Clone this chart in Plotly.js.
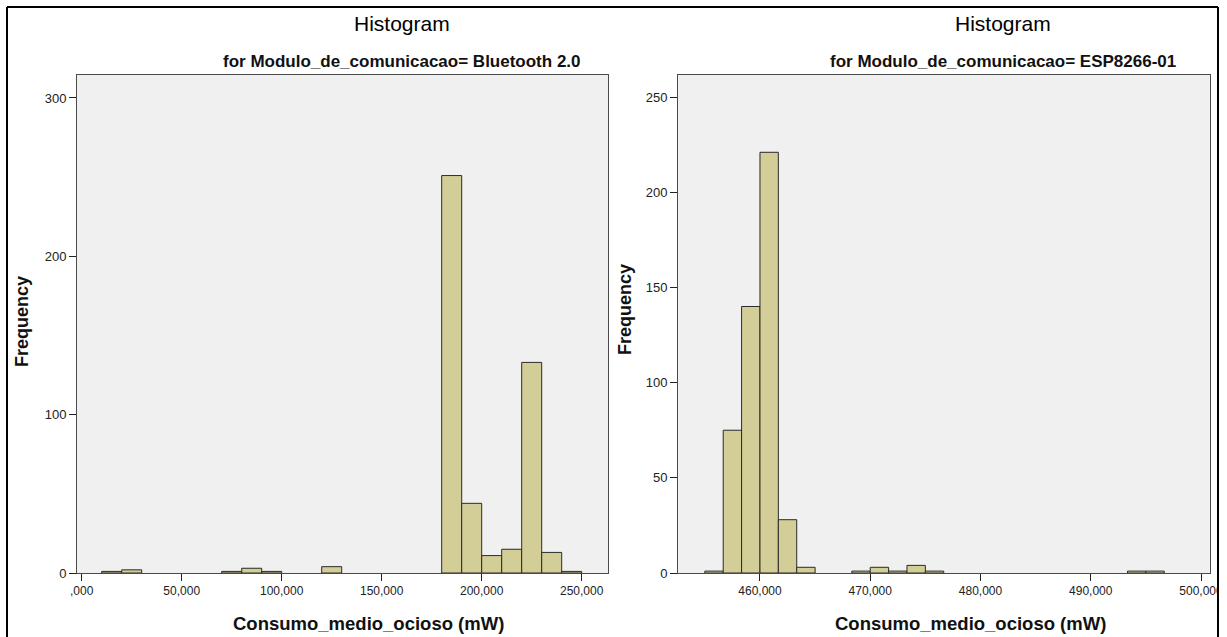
<!DOCTYPE html>
<html>
<head>
<meta charset="utf-8">
<script src="https://cdn.plot.ly/plotly-3.0.1.min.js"></script>
<style>
  html, body { margin: 0; padding: 0; background: #ffffff; }
  #chart { width: 1227px; height: 637px; }
</style>
</head>
<body>
<div id="chart"></div>
<script>
// ---- Data: Bluetooth 2.0 (bin start in mW, bin width 10,000) ----
const btBinStart = [10000, 20000, 70000, 80000, 90000, 120000, 180000, 190000, 200000, 210000, 220000, 230000, 240000];
const btCounts   = [1, 2, 1, 3, 1, 4, 251, 44, 11, 15, 133, 13, 1];
const btBinWidth = 10000;
const btTickVals = [0, 50000, 100000, 150000, 200000, 250000];
const btTickText = [",000", "50,000", "100,000", "150,000", "200,000", "250,000"];
const btYTicks   = [0, 100, 200, 300];

// ---- Data: ESP8266-01 (bin start in mW, bin width 10,000/6) ----
const espBinStart = [455000, 456666.67, 458333.33, 460000, 461666.67, 463333.33, 468333.33, 470000, 471666.67, 473333.33, 475000, 493333.33, 495000];
const espCounts   = [1, 75, 140, 221, 28, 3, 1, 3, 1, 4, 1, 1, 1];
const espBinWidth = 10000 / 6;
const espTickVals = [460000, 470000, 480000, 490000, 500000];
const espTickText = ["460,000", "470,000", "480,000", "490,000", "500,000"];
const espYTicks   = [0, 50, 100, 150, 200, 250];

const panelTitles = ["Histogram", "Histogram"];
const subTitles   = ["for Modulo_de_comunicacao= Bluetooth 2.0", "for Modulo_de_comunicacao= ESP8266-01"];
const xTitle = "Consumo_medio_ocioso (mW)";
const yTitle = "Frequency";

// ---- Layout helpers (pixel -> paper) ----
const W = 1227, H = 637;
const px = x => x / W;
const py = y => 1 - y / H;

const barFill = "#d3ce98";
const barLine = "#2a2a2a";

function centers(starts, w) { return starts.map(s => s + w / 2); }

const traces = [
  {
    type: "bar",
    x: centers(btBinStart, btBinWidth),
    y: btCounts,
    width: btBinStart.map(() => btBinWidth),
    marker: { color: barFill, line: { color: barLine, width: 1 } },
    xaxis: "x", yaxis: "y",
    hoverinfo: "x+y",
    showlegend: false
  },
  {
    type: "bar",
    x: centers(espBinStart, espBinWidth),
    y: espCounts,
    width: espBinStart.map(() => espBinWidth),
    marker: { color: barFill, line: { color: barLine, width: 1 } },
    xaxis: "x2", yaxis: "y2",
    hoverinfo: "x+y",
    showlegend: false
  }
];

const tickFont = { family: "Liberation Sans, Arial, sans-serif", size: 12, color: "#222" };
const axisCommon = {
  showgrid: false, zeroline: false,
  showline: true, mirror: true, linecolor: "#4a4a4a", linewidth: 1,
  ticks: "outside", ticklen: 7, tickwidth: 1, tickcolor: "#222",
  tickfont: tickFont, fixedrange: true
};

const plotTop = 75, plotBottom = 573;

const layout = {
  width: W, height: H,
  margin: { l: 0, r: 0, t: 0, b: 0 },
  paper_bgcolor: "#ffffff",
  plot_bgcolor: "#f0f0f0",
  bargap: 0,
  showlegend: false,
  xaxis: Object.assign({}, axisCommon, {
    domain: [px(77), px(608)], range: [-2350, 263150],
    tickmode: "array", tickvals: btTickVals, ticktext: btTickText, anchor: "y"
  }),
  yaxis: Object.assign({}, axisCommon, {
    domain: [py(plotBottom), py(plotTop)], range: [0, 314.5],
    tickmode: "array", tickvals: btYTicks, tickfont: Object.assign({}, tickFont, { size: 13 }), anchor: "x"
  }),
  xaxis2: Object.assign({}, axisCommon, {
    domain: [px(678), px(1210)], range: [452566, 500816],
    tickmode: "array", tickvals: espTickVals, ticktext: espTickText, anchor: "y2"
  }),
  yaxis2: Object.assign({}, axisCommon, {
    domain: [py(plotBottom), py(plotTop)], range: [0, 261.6],
    tickmode: "array", tickvals: espYTicks, tickfont: Object.assign({}, tickFont, { size: 13 }), anchor: "x2"
  }),
  shapes: [
    // white mask to clip labels beyond frame
    { type: "rect", xref: "paper", yref: "paper", x0: px(1219), x1: 1, y0: 0, y1: 1, fillcolor: "#ffffff", line: { width: 0 }, layer: "above" },
    // frame lines
    { type: "line", xref: "paper", yref: "paper", x0: px(7), x1: px(1218), y0: py(7), y1: py(7), line: { color: "#000", width: 2 }, layer: "above" },
    { type: "line", xref: "paper", yref: "paper", x0: px(7), x1: px(7), y0: py(7), y1: 0, line: { color: "#000", width: 2 }, layer: "above" },
    { type: "line", xref: "paper", yref: "paper", x0: px(1218), x1: px(1218), y0: py(7), y1: 0, line: { color: "#000", width: 2 }, layer: "above" }
  ],
  annotations: [
    { text: panelTitles[0], xref: "paper", yref: "paper", x: px(402), y: py(23), xanchor: "center", yanchor: "middle", showarrow: false,
      font: { family: "Liberation Sans, Arial, sans-serif", size: 21, color: "#000" } },
    { text: panelTitles[1], xref: "paper", yref: "paper", x: px(1003), y: py(23), xanchor: "center", yanchor: "middle", showarrow: false,
      font: { family: "Liberation Sans, Arial, sans-serif", size: 21, color: "#000" } },
    { text: "<b>" + subTitles[0] + "</b>", xref: "paper", yref: "paper", x: px(583), y: py(62), xanchor: "right", yanchor: "middle", showarrow: false,
      font: { family: "Liberation Sans Narrow, Liberation Sans, Arial, sans-serif", size: 17, color: "#111" } },
    { text: "<b>" + subTitles[1] + "</b>", xref: "paper", yref: "paper", x: px(1178), y: py(62), xanchor: "right", yanchor: "middle", showarrow: false,
      font: { family: "Liberation Sans Narrow, Liberation Sans, Arial, sans-serif", size: 17, color: "#111" } },
    { text: "<b>" + xTitle + "</b>", xref: "paper", yref: "paper", x: px(368), y: py(623), xanchor: "center", yanchor: "middle", showarrow: false,
      font: { family: "Liberation Sans, Arial, sans-serif", size: 18.5, color: "#111" } },
    { text: "<b>" + xTitle + "</b>", xref: "paper", yref: "paper", x: px(970), y: py(623), xanchor: "center", yanchor: "middle", showarrow: false,
      font: { family: "Liberation Sans, Arial, sans-serif", size: 18.5, color: "#111" } },
    { text: "<b>" + yTitle + "</b>", xref: "paper", yref: "paper", x: px(22), y: py(322), xanchor: "center", yanchor: "middle", textangle: -90, showarrow: false,
      font: { family: "Liberation Sans, Arial, sans-serif", size: 18, color: "#111" } },
    { text: "<b>" + yTitle + "</b>", xref: "paper", yref: "paper", x: px(625), y: py(310), xanchor: "center", yanchor: "middle", textangle: -90, showarrow: false,
      font: { family: "Liberation Sans, Arial, sans-serif", size: 18, color: "#111" } }
  ]
};

Plotly.newPlot("chart", traces, layout, { displayModeBar: false, staticPlot: true });
</script>
</body>
</html>
